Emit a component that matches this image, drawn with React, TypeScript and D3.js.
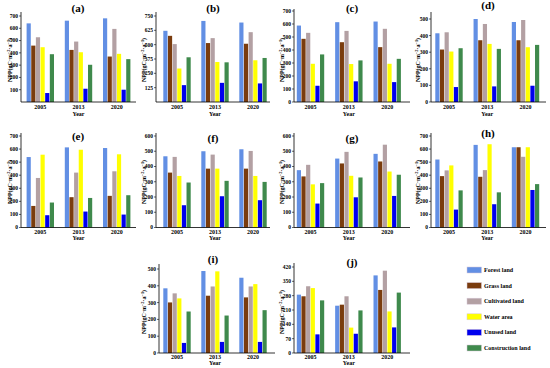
import React, { useEffect, useRef } from 'react';
import * as d3 from 'd3';

const years = ["2005", "2013", "2020"];
const landTypes = ["Forest land", "Grass land", "Cultivated land", "Water area", "Unused land", "Construction land"];
const landColors = ["#628fe4", "#7a3c0e", "#b3a0a3", "#ffff00", "#0000ee", "#3f8a4c"];

// values per year: [forest, grass, cultivated, water, unused, construction]
const valuesA = [[640, 459, 527, 446, 73, 389], [662, 424, 492, 405, 108, 303], [681, 370, 595, 392, 100, 349]];
const valuesB = [[621, 577, 505, 292, 147, 390], [707, 514, 557, 349, 167, 346], [693, 508, 609, 364, 162, 384]];
const valuesC = [[588, 486, 532, 294, 125, 366], [614, 460, 547, 292, 159, 320], [619, 422, 563, 294, 153, 332]];
const valuesD = [[414, 316, 420, 304, 90, 324], [500, 372, 470, 350, 94, 320], [482, 372, 494, 330, 98, 344]];
const valuesE = [[539, 165, 379, 557, 94, 191], [613, 232, 420, 595, 122, 226], [608, 242, 430, 560, 99, 247]];
const valuesF = [[467, 360, 463, 338, 146, 295], [500, 386, 478, 386, 205, 306], [513, 386, 502, 338, 179, 299]];
const valuesG = [[376, 335, 411, 283, 157, 291], [452, 420, 496, 339, 198, 328], [483, 433, 543, 367, 207, 346]];
const valuesH = [[520, 393, 437, 475, 137, 284], [632, 388, 439, 637, 178, 269], [614, 614, 541, 614, 287, 332]];
const valuesI = [[385, 301, 355, 325, 60, 247], [488, 341, 396, 486, 66, 223], [448, 331, 396, 410, 66, 255]];
const valuesJ = [[285, 277, 326, 317, 91, 257], [231, 236, 277, 124, 94, 208], [379, 308, 402, 203, 125, 295]];

const ticksA = [100, 200, 300, 400, 500, 600, 700];
const ticksB = [125, 250, 375, 500, 625, 750];
const ticksC = [0, 100, 200, 300, 400, 500, 600, 700];
const ticksD = [0, 100, 200, 300, 400, 500];
const ticksE = [0, 100, 200, 300, 400, 500, 600, 700];
const ticksF = [0, 100, 200, 300, 400, 500, 600];
const ticksG = [0, 100, 200, 300, 400, 500, 600];
const ticksH = [0, 100, 200, 300, 400, 500, 600, 700];
const ticksI = [0, 100, 200, 300, 400, 500];
const ticksJ = [0, 70, 140, 210, 280, 350, 420];

// column / row geometry
const colAxisX = [21, 156, 294, 431];
const colAxisEnd = [136, 270, 410, 546];
const colCenters = [[40.3, 116.7], [177, 253], [310.5, 387.2], [449, 525.5]];
const colLabelX = [10, 144, 282, 418];
const colTitleX = [78, 213, 352, 488];
const rowBottom = [102, 227.5, 353];
const rowLabelY = [60, 182, 312];
const rowYearY = [109, 234, 359];
const rowYearTitleY = [115.5, 240, 365];

const panels = [
  { name: "(a)", values: valuesA, ticks: ticksA, col: 0, row: 0, topY: 16, titleY: 12, ext: 4 },
  { name: "(b)", values: valuesB, ticks: ticksB, col: 1, row: 0, topY: 16, titleY: 12, ext: 4 },
  { name: "(c)", values: valuesC, ticks: ticksC, col: 2, row: 0, topY: 11, titleY: 12, ext: 2 },
  { name: "(d)", values: valuesD, ticks: ticksD, col: 3, row: 0, topY: 19, titleY: 9, ext: 7 },
  { name: "(e)", values: valuesE, ticks: ticksE, col: 0, row: 1, topY: 136, titleY: 140, ext: 3 },
  { name: "(f)", values: valuesF, ticks: ticksF, col: 1, row: 1, topY: 136, titleY: 142, ext: 3 },
  { name: "(g)", values: valuesG, ticks: ticksG, col: 2, row: 1, topY: 136, titleY: 142, ext: 3 },
  { name: "(h)", values: valuesH, ticks: ticksH, col: 3, row: 1, topY: 136, titleY: 137, ext: 3 },
  { name: "(i)", values: valuesI, ticks: ticksI, col: 1, row: 2, topY: 269, titleY: 263, ext: 5, axisX: 159, axisEnd: 275 },
  { name: "(j)", values: valuesJ, ticks: ticksJ, col: 2, row: 2, topY: 267, titleY: 266, ext: 4 },
];

const FONT = "'Liberation Serif', 'Times New Roman', serif";

const App: React.FC = () => {
  const svgRef = useRef<SVGSVGElement>(null);

  useEffect(() => {
    if (!svgRef.current) return;
    const svg = d3.select(svgRef.current);
    svg.selectAll("*").remove();

    svg.append("rect").attr("width", 550).attr("height", 368).attr("fill", "#fff");

    panels.forEach((p) => {
      const axisX = p.axisX ?? colAxisX[p.col];
      const axisEnd = p.axisEnd ?? colAxisEnd[p.col];
      const bottom = rowBottom[p.row];
      const yMax = p.ticks[p.ticks.length - 1];

      const x = d3.scalePoint<string>().domain(years).range(colCenters[p.col] as [number, number]);
      const xs = d3.scaleBand<string>().domain(landTypes).range([-13.7, 13.7]).paddingInner(0.1);
      const y = d3.scaleLinear().domain([0, yMax]).range([bottom, p.topY]);

      const g = svg.append("g").style("font-family", FONT).style("font-weight", "bold");

      // bars
      years.forEach((yr, i) => {
        g.selectAll(null)
          .data(p.values[i])
          .enter()
          .append("rect")
          .attr("x", (_d, j) => (x(yr) as number) + (xs(landTypes[j]) as number))
          .attr("width", xs.bandwidth())
          .attr("y", (d) => y(d))
          .attr("height", (d) => bottom - y(d))
          .attr("fill", (_d, j) => landColors[j]);
      });

      // axes
      g.append("line")
        .attr("x1", axisX).attr("x2", axisX)
        .attr("y1", bottom).attr("y2", p.topY - p.ext)
        .attr("stroke", "#000").attr("stroke-width", 0.8);
      g.append("line")
        .attr("x1", axisX).attr("x2", axisEnd)
        .attr("y1", bottom).attr("y2", bottom)
        .attr("stroke", "#000").attr("stroke-width", 0.8);

      p.ticks.forEach((t) => {
        g.append("line")
          .attr("x1", axisX - 2).attr("x2", axisX)
          .attr("y1", y(t)).attr("y2", y(t))
          .attr("stroke", "#000").attr("stroke-width", 0.6);
        g.append("text")
          .attr("x", axisX - 3)
          .attr("y", y(t) + 1.9)
          .attr("text-anchor", "end")
          .style("font-size", "5.5px")
          .text(t);
      });

      years.forEach((yr) => {
        g.append("text")
          .attr("x", x(yr) as number)
          .attr("y", rowYearY[p.row])
          .attr("text-anchor", "middle")
          .style("font-size", "6px")
          .text(yr);
      });

      const mid = (colCenters[p.col][0] + colCenters[p.col][1]) / 2;
      g.append("text")
        .attr("x", mid)
        .attr("y", rowYearTitleY[p.row])
        .attr("text-anchor", "middle")
        .style("font-size", "6px")
        .text("Year");

      g.append("text")
        .attr("x", colTitleX[p.col])
        .attr("y", p.titleY)
        .attr("text-anchor", "middle")
        .style("font-size", "11px")
        .text(p.name);

      // y label
      const lbl = g.append("text")
        .attr("transform", `translate(${colLabelX[p.col] + 2},${rowLabelY[p.row]}) rotate(-90)`)
        .attr("text-anchor", "middle")
        .style("font-size", "6px");
      lbl.append("tspan").text("NPP(gC·m");
      lbl.append("tspan").attr("dy", -2).style("font-size", "4.3px").text("−2");
      lbl.append("tspan").attr("dy", 2).text("·a");
      lbl.append("tspan").attr("dy", -2).style("font-size", "4.3px").text("−1");
      lbl.append("tspan").attr("dy", 2).text(")");
    });

    // legend
    const leg = svg.append("g").style("font-family", FONT).style("font-weight", "bold");
    const ly = d3.scalePoint<string>().domain(landTypes).range([270, 348]);
    landTypes.forEach((lt, i) => {
      const cy = ly(lt) as number;
      leg.append("rect")
        .attr("x", 467).attr("y", cy - 3)
        .attr("width", 14.5).attr("height", 6)
        .attr("fill", landColors[i])
        .attr("stroke", "#d8c8d8").attr("stroke-width", 0.5);
      leg.append("text")
        .attr("x", 484).attr("y", cy + 2)
        .style("font-size", "6px")
        .text(lt);
    });
  }, []);

  return (
    <svg
      ref={svgRef}
      width={550}
      height={368}
      style={{ position: "absolute", left: 0, top: 0, display: "block" }}
    />
  );
};

export default App;
